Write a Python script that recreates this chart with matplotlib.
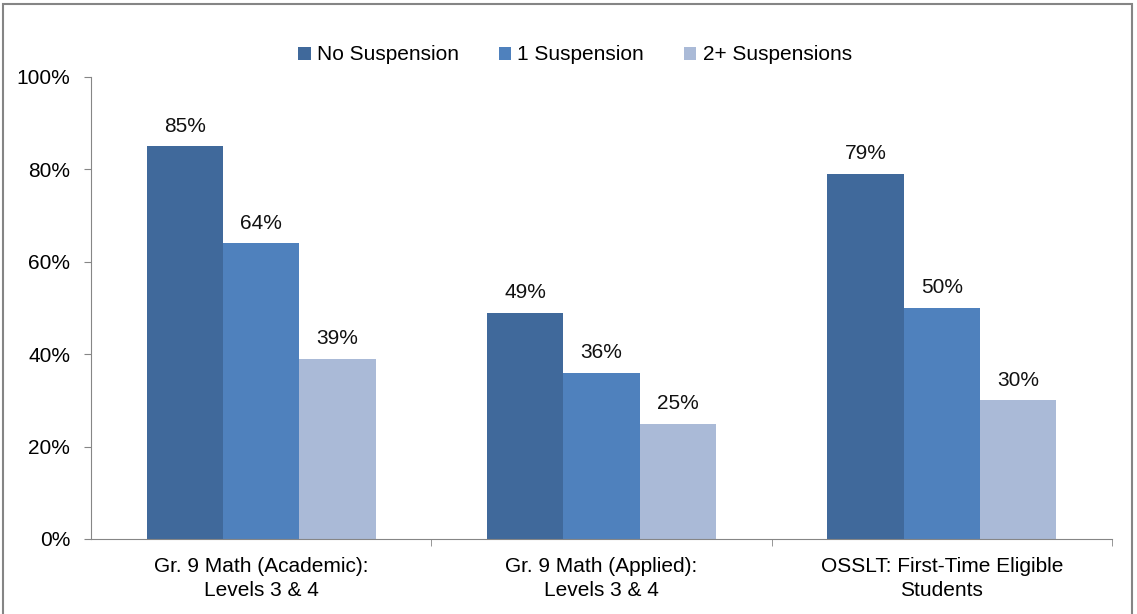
import numpy as np
import matplotlib.pyplot as plt
from matplotlib.patches import Rectangle
from matplotlib.ticker import FuncFormatter

plt.rcParams['font.family'] = ['Liberation Sans', 'DejaVu Sans']

categories = ['Gr. 9 Math (Academic):\nLevels 3 & 4',
              'Gr. 9 Math (Applied):\nLevels 3 & 4',
              'OSSLT: First-Time Eligible\nStudents']
series_names = ['No Suspension', '1 Suspension', '2+ Suspensions']
no_susp = [85, 49, 79]
one_susp = [64, 36, 50]
two_plus = [39, 25, 30]
colors = ['#40699B', '#4F81BD', '#AABAD7']

fs = 15
fig = plt.figure(figsize=(11.37, 6.14), dpi=100)
ax = fig.add_axes([91 / 1137, 1 - 539 / 614, (1112 - 91) / 1137, (539 - 77) / 614])

x = np.arange(len(categories))
w = 0.224
for i, (vals, name) in enumerate(zip([no_susp, one_susp, two_plus], series_names)):
    pos = x + (i - 1) * w
    ax.bar(pos, vals, width=w, color=colors[i], label=name)
    for p, v in zip(pos, vals):
        ax.text(p, v + 2.3, f'{v}%', ha='center', va='bottom', fontsize=fs, color='#111111')

ax.set_xlim(-0.5, 2.5)
ax.set_ylim(0, 100)
ax.set_yticks(np.arange(0, 101, 20))
ax.yaxis.set_major_formatter(FuncFormatter(lambda v, _: f'{int(v)}%'))
ax.set_xticks(x)
ax.set_xticklabels(categories, fontsize=fs, linespacing=1.35)
ax.set_xticks([0.5, 1.5, 2.5], minor=True)
ax.tick_params(axis='x', which='major', length=0, pad=13)
ax.tick_params(axis='x', which='minor', length=5, color='#868686', direction='out')
ax.tick_params(axis='y', length=5, color='#868686', labelsize=fs, pad=10)
for s in ['top', 'right']:
    ax.spines[s].set_visible(False)
for s in ['left', 'bottom']:
    ax.spines[s].set_color('#868686')

fig.legend(loc='center', bbox_to_anchor=(575 / 1137, 1 - 55 / 614), ncol=3, frameon=False,
           fontsize=fs, handlelength=0.6, handleheight=0.6, handletextpad=0.3,
           columnspacing=1.9)

fig.patches.append(Rectangle((3 / 1137, -0.05), 1129 / 1137, 1.05 - 3.5 / 614,
                             transform=fig.transFigure, fill=False,
                             edgecolor='#858585', linewidth=1.5))

fig.savefig('out.png', dpi=100)
